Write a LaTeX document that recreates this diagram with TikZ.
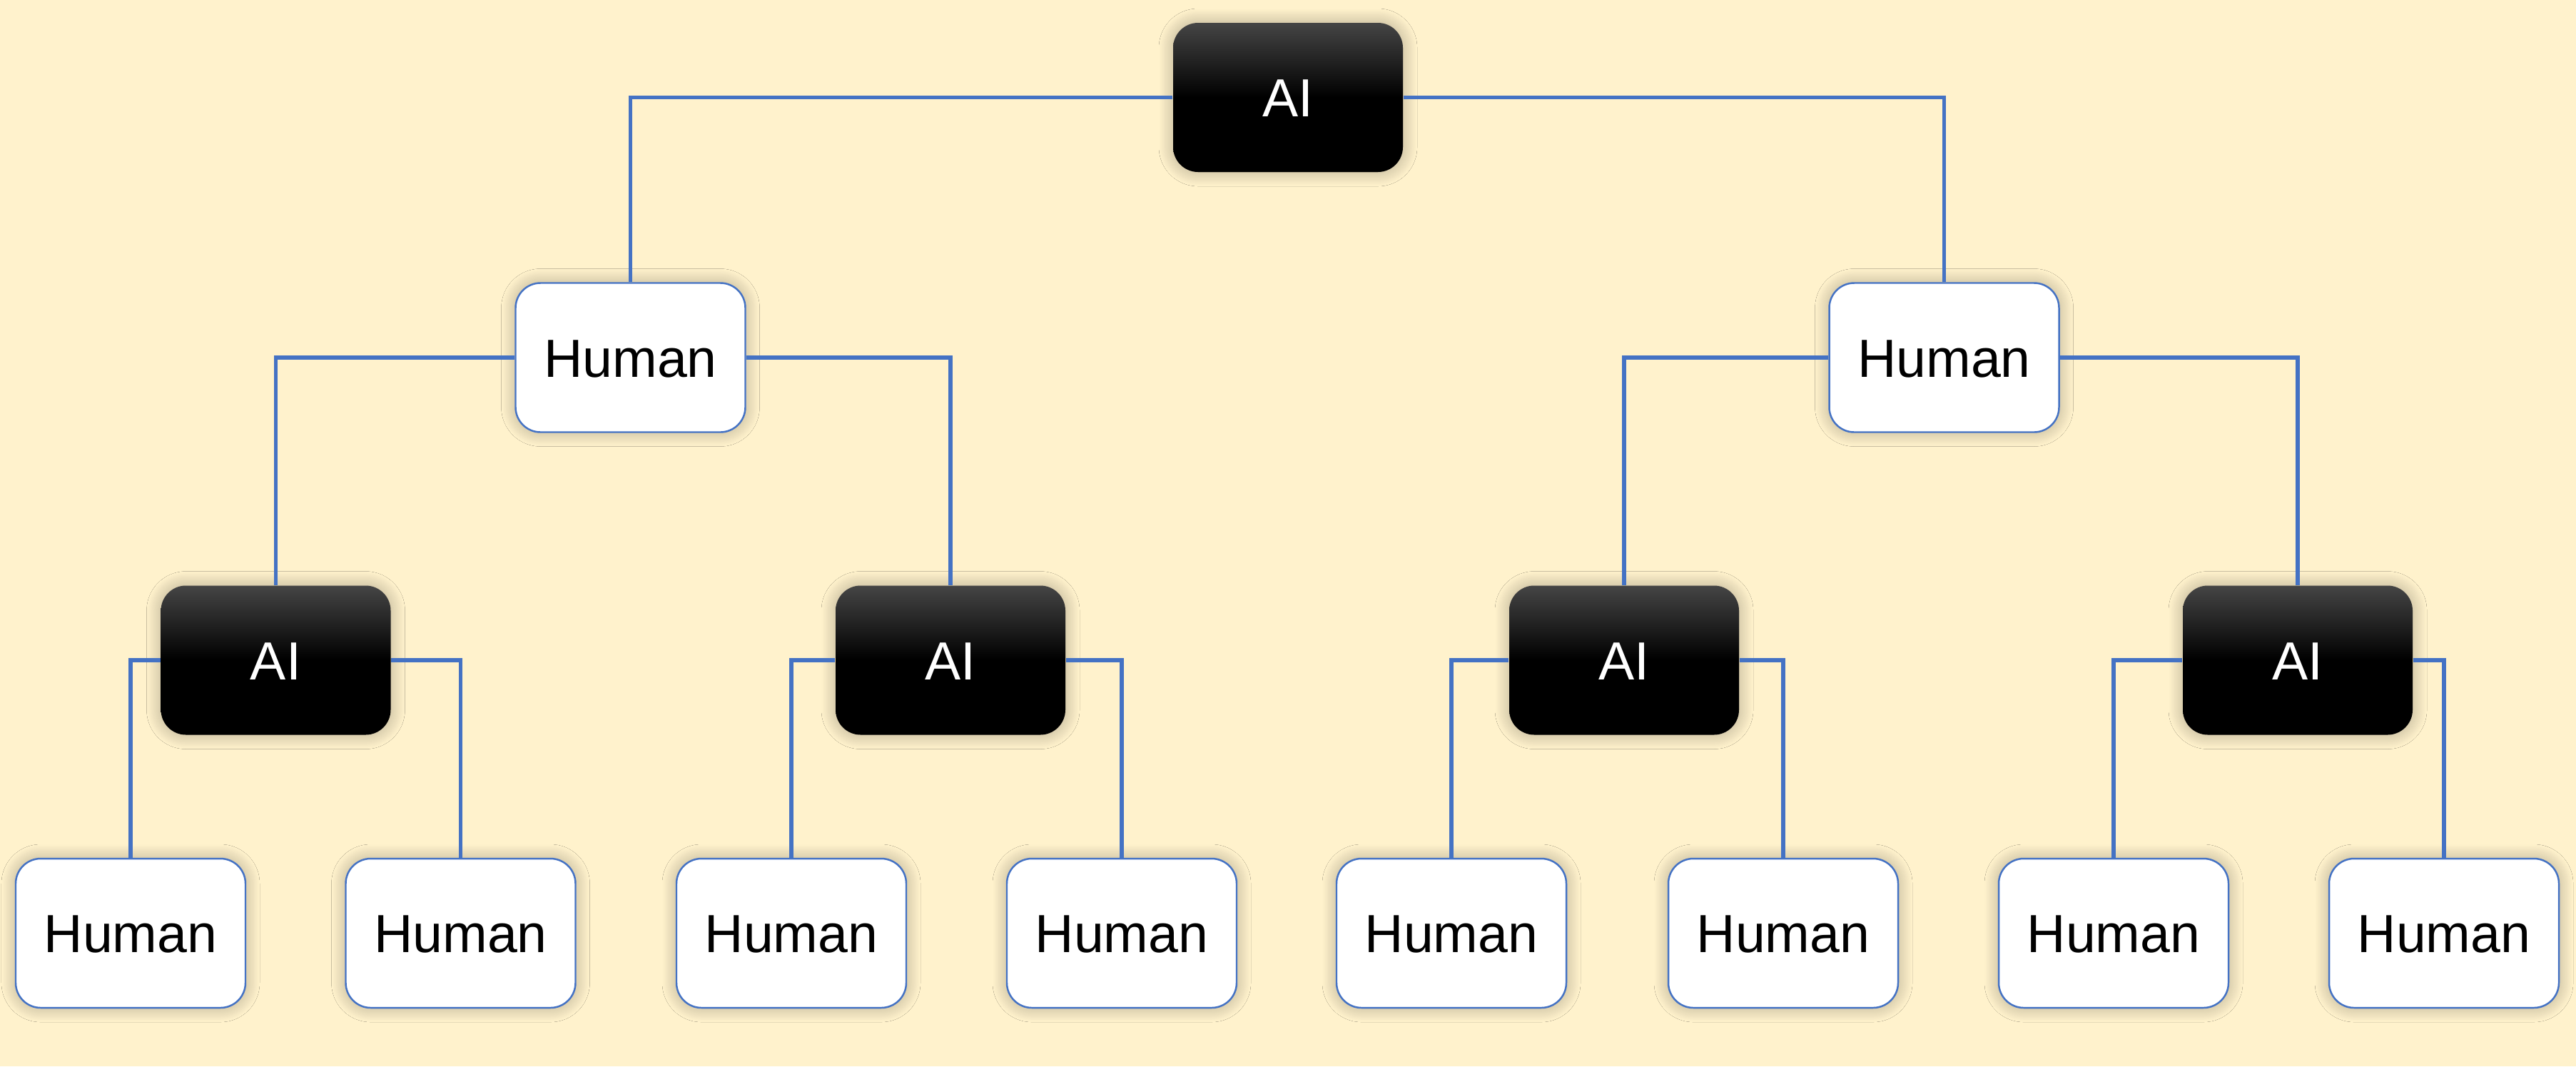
\documentclass[tikz,border=0pt]{standalone}
\usepackage{fontspec}
\setmainfont{Liberation Sans}
\usetikzlibrary{shadows.blur}
\definecolor{bgyellow}{HTML}{FFF2CC}
\definecolor{linkblue}{HTML}{4472C4}
\tikzset{
	box/.style={rounded corners=0.35cm, minimum width=3.22cm, minimum height=2.09cm,
		inner sep=0pt, text height=0.54cm, text depth=0pt,
		font=\fontsize{21.4}{26}\selectfont,
		blur shadow={shadow xshift=0pt, shadow yshift=0pt, shadow blur radius=0.2cm,
			shadow blur steps=25, shadow opacity=30}},
	aibox/.style={box, top color=black!73, bottom color=black, middle color=black, text=white},
	humanbox/.style={box, draw=linkblue, line width=0.7pt, fill=white},
	link/.style={draw=linkblue, line width=1.6pt}
}
\begin{document}
\begin{tikzpicture}
	\useasboundingbox (0,0) rectangle (36.1,-14.94);
	\fill[bgyellow] (0,0) rectangle (36.1,-14.94);
	% root and second level
	\node[aibox] (ai) at (18.05,-1.365) {AI};
	\node[humanbox] (h1) at (8.835,-5.01) {Human};
	\node[humanbox] (h2) at (27.245,-5.01) {Human};
	% third level and leaves
	\foreach \x [count=\i] in {3.865,13.32,22.76,32.2}
		\node[aibox] (a\i) at (\x,-9.25) {AI};
	\foreach \x [count=\i] in {1.83,6.455,11.09,15.72,20.34,24.99,29.62,34.25}
		\node[humanbox] (l\i) at (\x,-13.075) {Human};
	% connectors
	\draw[link] (ai.west) -| (h1.north);
	\draw[link] (ai.east) -| (h2.north);
	\draw[link] (h1.west) -| (a1.north);
	\draw[link] (h1.east) -| (a2.north);
	\draw[link] (h2.west) -| (a3.north);
	\draw[link] (h2.east) -| (a4.north);
	\foreach \i in {1,...,4} {
		\pgfmathtruncatemacro\lft{2*\i-1}
		\pgfmathtruncatemacro\rgt{2*\i}
		\draw[link] (a\i.west) -| (l\lft.north);
		\draw[link] (a\i.east) -| (l\rgt.north);
	}
\end{tikzpicture}
\end{document}
